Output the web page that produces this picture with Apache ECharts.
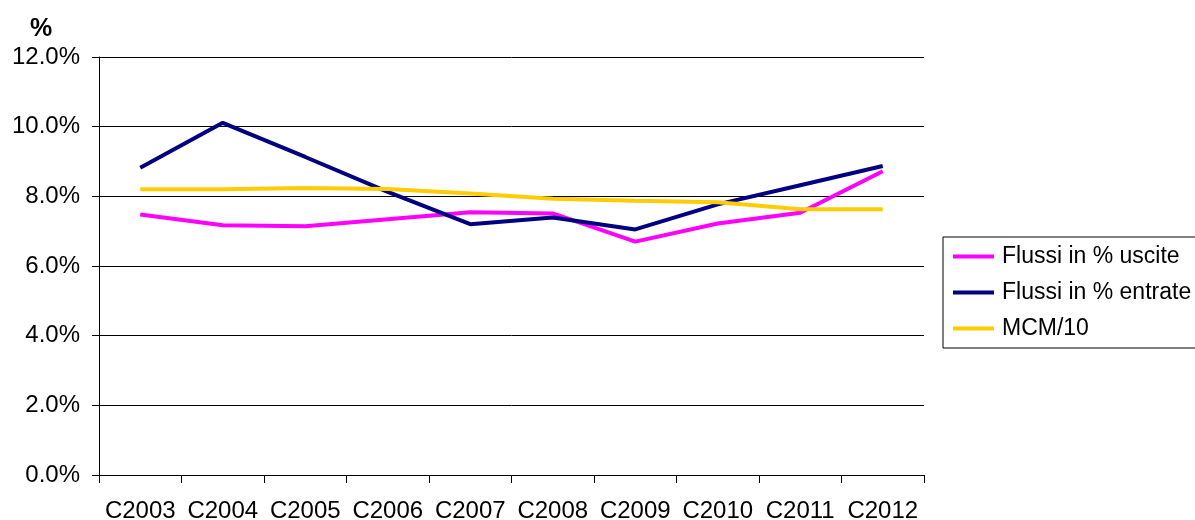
<!DOCTYPE html>
<html>
<head>
<meta charset="utf-8">
<script src="https://cdn.jsdelivr.net/npm/echarts@6/dist/echarts.min.js"></script>
<style>
html,body{margin:0;padding:0;background:#fff;}
#c{width:1195px;height:520px;}
</style>
</head>
<body>
<div id="c"></div>
<script>
const categories = ['C2003','C2004','C2005','C2006','C2007','C2008','C2009','C2010','C2011','C2012'];
const seriesNames = ['Flussi in % uscite','Flussi in % entrate','MCM/10'];
const uscite = [7.48, 7.17, 7.14, 7.34, 7.54, 7.51, 6.70, 7.22, 7.53, 8.72];
const entrate = [8.82, 10.11, 9.13, 8.13, 7.20, 7.39, 7.05, 7.77, 8.32, 8.87];
const mcm = [8.20, 8.20, 8.24, 8.21, 8.08, 7.93, 7.87, 7.83, 7.63, 7.63];
const colors = ['#FF00FF','#000080','#FFCC00'];
const font = '"Liberation Sans", Arial, sans-serif';

const chart = echarts.init(document.getElementById('c'), null, {renderer:'canvas'});
const mk = (name, data, color) => ({
  name, type:'line', data, symbol:'none', smooth:false,
  lineStyle:{color, width:4}, itemStyle:{color}, animation:false
});
chart.setOption({
  animation:false,
  textStyle:{fontFamily:font},
  title:{text:'%', left:25, top:12, textStyle:{fontFamily:font, fontSize:25, fontWeight:'bold', color:'#000'}},
  grid:{left:99, right:271, top:57, bottom:45, containLabel:false, outerBoundsMode:'none'},
  legend:{
    orient:'vertical', left:943, top:237,
    padding:[8,40,8,10],
    borderColor:'#000', borderWidth:1,
    itemWidth:41, itemHeight:4, itemGap:13,
    icon:'rect',
    data:seriesNames,
    textStyle:{fontFamily:font, fontSize:23, color:'#000', padding:[0,0,0,3], lineHeight:23}
  },
  xAxis:{
    type:'category', data:categories, boundaryGap:true,
    axisLine:{lineStyle:{color:'#000', width:1}},
    axisTick:{show:true, length:8, lineStyle:{color:'#000'}},
    axisLabel:{color:'#000', fontSize:24, margin:24, fontFamily:font, interval:0}
  },
  yAxis:{
    type:'value', min:0, max:12, interval:2,
    axisLine:{show:true, lineStyle:{color:'#000', width:1}},
    axisTick:{show:true, length:7, lineStyle:{color:'#000'}},
    splitLine:{show:true, lineStyle:{color:'#000', width:1}},
    axisLabel:{color:'#000', fontSize:24, margin:19, fontFamily:font, formatter:v=>v.toFixed(1)+'%'}
  },
  series:[mk(seriesNames[0], uscite, colors[0]), mk(seriesNames[1], entrate, colors[1]), mk(seriesNames[2], mcm, colors[2])]
});
</script>
</body>
</html>
